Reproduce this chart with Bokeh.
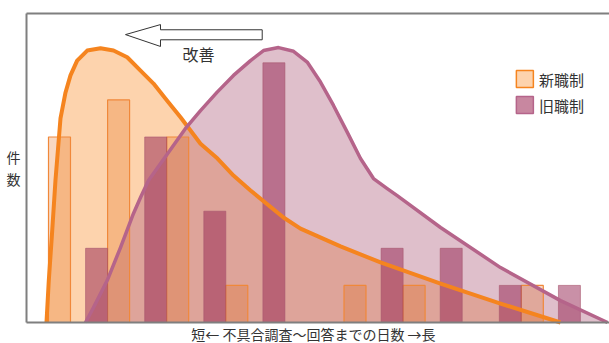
from bokeh.plotting import figure
from bokeh.models import Range1d
from bokeh.core.properties import value
from bokeh.embed import file_html
from bokeh.resources import INLINE

# ---- data ----
groups = [0, 1, 2, 3, 4, 5, 6, 7, 8, 9]
new_counts = [5, 6, 5, 1, 0, 1, 1, 0, 1, 0]   # 新職制
old_counts = [0, 2, 5, 3, 7, 0, 2, 2, 1, 1]   # 旧職制

new_curve_x = [-0.034, 0.005, 0.063, 0.118, 0.203, 0.288, 0.372, 0.485, 0.655, 0.880,
               1.100, 1.332, 1.557, 1.777, 2.008, 2.234, 2.572, 2.860, 3.130, 3.418,
               3.976, 4.264, 4.941, 5.618, 6.633, 7.648, 8.663]
new_curve_y = [0.0, 1.13, 2.48, 3.83, 5.50, 6.20, 6.66, 7.06, 7.33, 7.39,
               7.33, 7.15, 6.79, 6.44, 5.98, 5.53, 4.82, 4.42, 3.96, 3.56,
               2.83, 2.53, 2.05, 1.62, 1.05, 0.51, 0.0]

old_curve_x = [0.626, 0.761, 0.993, 1.218, 1.438, 1.557, 1.692, 2.318, 2.572, 2.854,
               3.130, 3.418, 3.638, 3.892, 4.146, 4.377, 4.602, 4.822, 5.054, 5.279,
               5.499, 5.731, 5.900, 6.633, 7.648, 8.663, 9.459]
old_curve_y = [0.0, 0.40, 1.13, 2.02, 2.94, 3.37, 3.83, 5.23, 5.71, 6.21,
               6.66, 7.06, 7.33, 7.41, 7.31, 7.02, 6.48, 5.85, 5.13, 4.42,
               3.88, 3.61, 3.42, 2.56, 1.48, 0.59, 0.0]

legend_labels = ["新職制", "旧職制"]
x_label = "短←  不具合調査～回答までの日数  →長"
y_label_chars = ["件", "数"]
note_text = "改善"

# ---- layout constants ----
FONT = value("Noto Sans CJK JP")
X_LEFT, X_RIGHT = -0.372, 9.7
Y_TOP = 8.33
BAR_W = 0.372
ORANGE = "#F5841F"
PURPLE = "#B5648A"

p = figure(width=609, height=343, output_backend="svg", toolbar_location=None,
           x_range=Range1d(-0.812, 9.492), y_range=Range1d(-0.566, 8.679),
           x_axis_location=None, y_axis_location=None, min_border=0,
           background_fill_color="white", border_fill_color="white")
p.outline_line_color = None
p.grid.visible = False

# areas under curves
p.varea(x=new_curve_x, y1=0, y2=new_curve_y, fill_color="#FDD3AD", fill_alpha=1.0)
p.varea(x=old_curve_x, y1=0, y2=old_curve_y, fill_color="#AF5F7D", fill_alpha=0.4)

# bars
nx = [g + BAR_W / 2 for g, v in zip(groups, new_counts) if v > 0]
nv = [v for v in new_counts if v > 0]
ox = [g - BAR_W / 2 for g, v in zip(groups, old_counts) if v > 0]
ov = [v for v in old_counts if v > 0]
p.vbar(x=nx, top=nv, bottom=0, width=BAR_W, fill_color="#E5630C", fill_alpha=0.25,
       line_color="#F0883A", line_width=1.2)
p.vbar(x=ox, top=ov, bottom=0, width=BAR_W, fill_color="#93214F", fill_alpha=0.5,
       line_color="#A8566E", line_alpha=0.6, line_width=1)

# curves
p.line(new_curve_x, new_curve_y, line_color=ORANGE, line_width=4, line_join="round")
p.line(old_curve_x, old_curve_y, line_color=PURPLE, line_width=3.5, line_join="round")

# frame lines
p.line([X_LEFT, X_RIGHT], [0, 0], line_color="#7f7f7f", line_width=2)
p.line([X_LEFT, X_LEFT], [0, Y_TOP], line_color="#7f7f7f", line_width=2)
p.line([X_LEFT, X_RIGHT], [Y_TOP, Y_TOP], line_color="#7f7f7f", line_width=2)

# improvement arrow (outlined)
arrow_x = [1.303, 1.895, 1.895, 3.616, 3.616, 1.895, 1.895]
arrow_y = [7.76, 8.03, 7.89, 7.89, 7.62, 7.62, 7.44]
p.patch(arrow_x, arrow_y, fill_color="white", line_color="#333333", line_width=1)
p.text(x=[2.54], y=[7.25], text=[note_text], text_font=FONT, text_font_size="16px",
       text_color="#333333", text_align="center", text_baseline="middle")

# legend
p.rect(x=[8.06], y=[6.56], width=17, height=17, width_units="screen", height_units="screen",
       fill_color="#FDD3AD", line_color=ORANGE, line_width=1.5)
p.rect(x=[8.06], y=[5.86], width=17, height=17, width_units="screen", height_units="screen",
       fill_color="#C887A0", line_color=PURPLE, line_width=1.5)
p.text(x=[8.30, 8.30], y=[6.56, 5.86], text=legend_labels, text_font=FONT,
       text_font_size="15px", text_color="#333333", text_align="left", text_baseline="middle")

# axis labels
p.text(x=[-0.592, -0.592], y=[4.45, 3.88], text=y_label_chars, text_font=FONT,
       text_font_size="14px", text_color="#333333", text_align="center", text_baseline="middle")
p.text(x=[4.535], y=[-0.315], text=[x_label], text_font=FONT, text_font_size="14px",
       text_color="#333333", text_align="center", text_baseline="middle")

open("out.html", "w").write(file_html(p, INLINE))
